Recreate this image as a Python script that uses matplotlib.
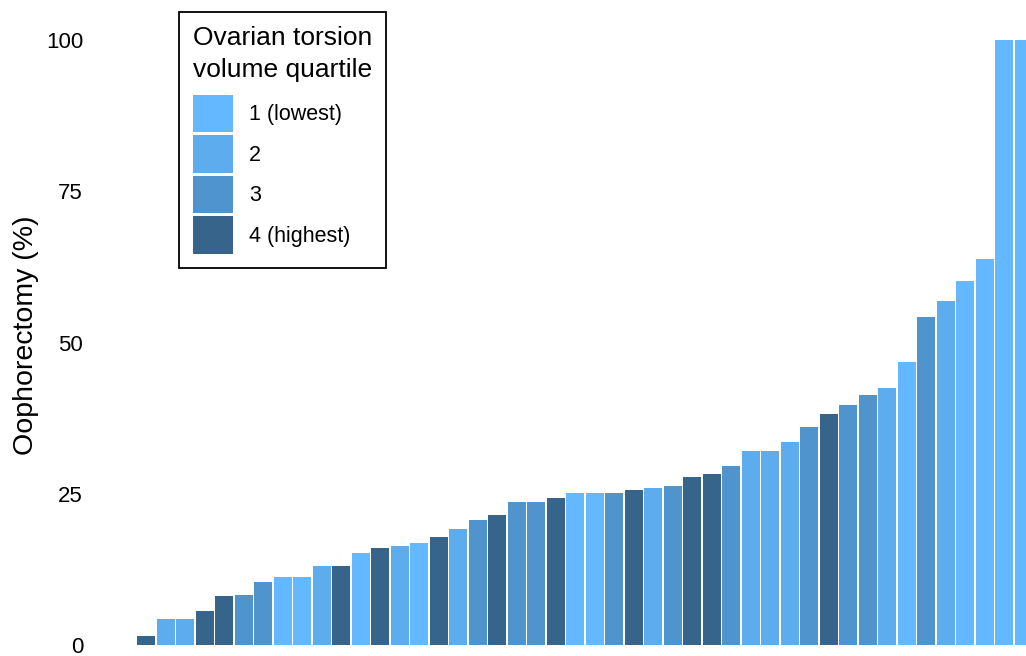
import matplotlib.pyplot as plt
from matplotlib.patches import Patch

# oophorectomy rate per hospital, sorted, with the hospital's torsion volume quartile
oophorectomy = [0, 0, 1.5, 4.3, 4.3, 5.6, 8.1, 8.3, 10.4, 11.2, 11.2, 13.1, 13.1, 15.2, 16.0, 16.4,
                16.9, 17.9, 19.2, 20.7, 21.5, 23.6, 23.6, 24.3, 25.1, 25.1, 25.1, 25.6, 26.0, 26.3, 27.8, 28.3,
                29.6, 32.1, 32.1, 33.6, 36.0, 38.2, 39.7, 41.3, 42.5, 46.8, 54.2, 56.9, 60.2, 63.8, 100, 100]
quartile = [1, 1, 4, 2, 2, 4, 4, 3, 3, 1, 1, 2, 4, 1, 4, 2,
            1, 4, 2, 3, 4, 3, 3, 4, 1, 1, 3, 4, 2, 3, 4, 4,
            3, 2, 2, 2, 3, 4, 3, 3, 2, 1, 3, 2, 1, 1, 1, 1]
quartile_labels = ['1 (lowest)', '2', '3', '4 (highest)']
quartile_colors = {1: '#63B8FF', 2: '#5CACEE', 3: '#4F94CD', 4: '#36648B'}

plt.rcParams['font.family'] = ['Liberation Sans', 'DejaVu Sans']

fig = plt.figure(figsize=(10.26, 6.56), dpi=100)
ax = fig.add_axes([95.6 / 1026, 0, 1 - 95.6 / 1026, 1])

xs = range(len(oophorectomy))
ax.bar(xs, oophorectomy, width=0.92, color=[quartile_colors[q] for q in quartile])

ax.set_xlim(-0.6, 47.11)
ax.set_ylim(-1.8, 106.6)
ax.set_yticks([0, 25, 50, 75, 100])
ax.set_xticks([])
ax.tick_params(axis='y', length=0, pad=9, labelsize=16)
for s in ax.spines.values():
    s.set_visible(False)
ax.set_ylabel('Oophorectomy (%)', fontsize=20.5, labelpad=5)
ax.yaxis.label.set_y(0.489)

handles = [Patch(facecolor=quartile_colors[i + 1], label=lab) for i, lab in enumerate(quartile_labels)]
leg = fig.legend(handles=handles, title='Ovarian torsion\nvolume quartile',
                 loc='upper left', bbox_to_anchor=(179 / 1026, 1 - 12 / 656),
                 borderaxespad=0, fontsize=15.5, title_fontsize=19,
                 handlelength=1.86, handleheight=2.3, labelspacing=0.14,
                 handletextpad=0.74, borderpad=0.65, alignment='left',
                 fancybox=False, framealpha=1)
leg.get_title().set_linespacing(1.4)
leg._legend_box.sep = 9.5  # extra room between title and keys
leg.get_frame().set_edgecolor('black')
leg.get_frame().set_linewidth(1.3)

fig.savefig('out.png', dpi=100)
